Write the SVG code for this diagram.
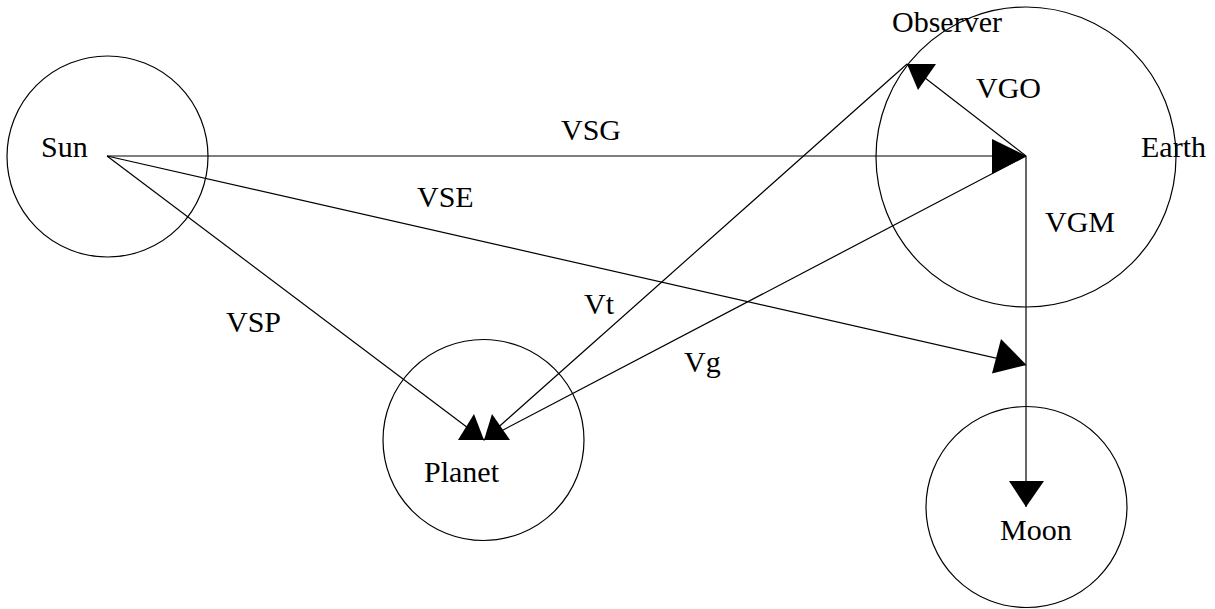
<svg xmlns="http://www.w3.org/2000/svg" width="1215" height="609" viewBox="0 0 1215 609">
<style>
.body{fill:none;stroke:#000;stroke-width:1.2}
.lbl{font-family:"Liberation Serif","Times New Roman",serif;font-size:30px;fill:#000}
.con line{stroke:#000;stroke-width:1.2}
.con polygon{fill:#000;stroke:none}
</style>
<rect width="1215" height="609" fill="#fff"/>
<g id="sun"><circle class="body" cx="107.5" cy="156.5" r="100.5"/><text class="lbl" x="41" y="157">Sun</text></g>
<g id="earth"><circle class="body" cx="1026" cy="157" r="150"/><text class="lbl" x="1141" y="157">Earth</text></g>
<g id="planet"><circle class="body" cx="483.5" cy="440" r="100.5"/><text class="lbl" x="424" y="482">Planet</text></g>
<g id="moon"><circle class="body" cx="1026.5" cy="507" r="100.5"/><text class="lbl" x="1000" y="540">Moon</text></g>
<g id="observer"><text class="lbl" x="892" y="32">Observer</text></g>
<g id="connectors" class="con">
<line x1="107" y1="156" x2="1026" y2="156"/>
<line x1="107" y1="156" x2="1026" y2="365"/>
<line x1="107" y1="156" x2="484" y2="440"/>
<line x1="907" y1="64" x2="484" y2="440"/>
<line x1="1026" y1="156" x2="484" y2="440"/>
<line x1="1026" y1="156" x2="907" y2="64"/>
<line x1="1026" y1="156" x2="1026" y2="507"/>
<polygon points="1026.5,156 992,139 992,174"/>
<polygon points="1026.5,365 1001,339 992,373.5"/>
<polygon points="458,440 474,414 484,440"/>
<polygon points="484,440 492,414 510,440"/>
<polygon points="907,64 936,64 918,90"/>
<polygon points="1009,481 1044,481 1026,507"/>
</g>
<g id="labels">
<text class="lbl" x="561" y="140">VSG</text>
<text class="lbl" x="417" y="207">VSE</text>
<text class="lbl" x="226" y="332">VSP</text>
<text class="lbl" x="584" y="314">Vt</text>
<text class="lbl" x="684" y="372">Vg</text>
<text class="lbl" x="976" y="98">VGO</text>
<text class="lbl" x="1045" y="232">VGM</text>
</g>
</svg>
